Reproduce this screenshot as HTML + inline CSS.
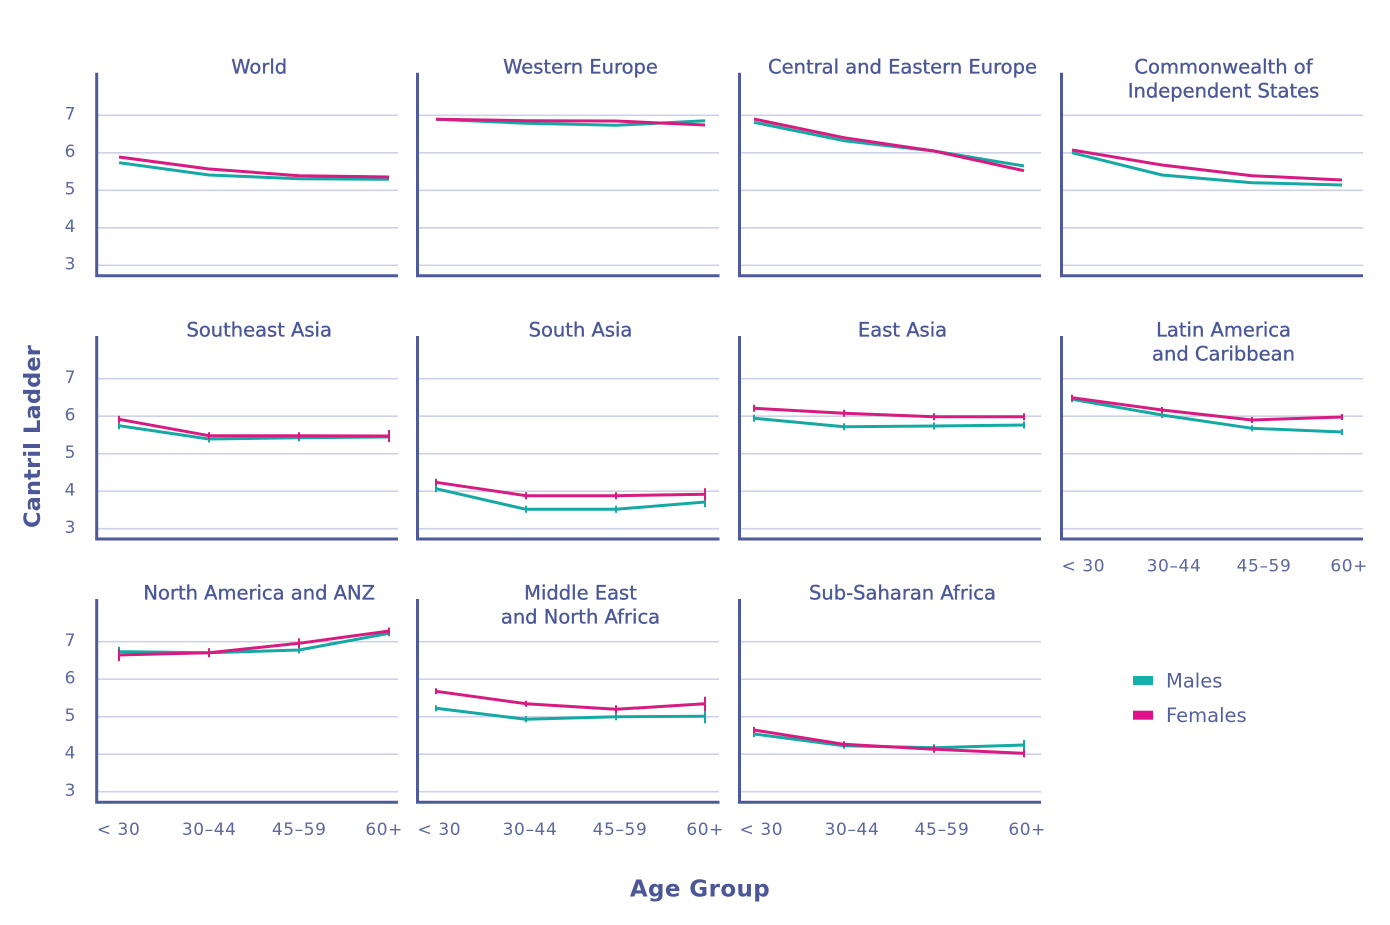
<!DOCTYPE html>
<html><head><meta charset="utf-8"><style>
html,body{margin:0;padding:0;background:#fff;}
svg{display:block;}
.t{font-family:"DejaVu Sans","Liberation Sans",sans-serif;font-size:19.5px;fill:#4b5797;text-anchor:middle;stroke:#4b5797;stroke-width:0.35px;}
.yl{font-family:"DejaVu Sans","Liberation Sans",sans-serif;font-size:17px;fill:#5d67a0;text-anchor:middle;}
.xl{font-family:"DejaVu Sans","Liberation Sans",sans-serif;font-size:17px;fill:#5d67a0;letter-spacing:0.6px;}
.ax{fill:none;stroke:#4f5a9b;stroke-width:3;}
.gr{stroke:#cfd1e7;stroke-width:1.6;}
.m{fill:none;stroke:#14aaa3;stroke-width:3;stroke-linejoin:round;}
.f{fill:none;stroke:#d81b80;stroke-width:3;stroke-linejoin:round;}
.me{stroke:#14aaa3;stroke-width:2;}
.fe{stroke:#d81b80;stroke-width:2;}
</style></head><body>
<svg width="1390" height="925" viewBox="0 0 1390 925" xmlns="http://www.w3.org/2000/svg">
<rect width="1390" height="925" fill="#fff"/>

<g class="gr">
<path d="M98,115.3H398M98,152.8H398M98,190.3H398M98,227.8H398M98,265.3H398"/>
<path d="M419,115.3H719M419,152.8H719M419,190.3H719M419,227.8H719M419,265.3H719"/>
<path d="M741,115.3H1041M741,152.8H1041M741,190.3H1041M741,227.8H1041M741,265.3H1041"/>
<path d="M1063,115.3H1363M1063,152.8H1363M1063,190.3H1363M1063,227.8H1363M1063,265.3H1363"/>
<path d="M98,378.7H398M98,416.2H398M98,453.7H398M98,491.2H398M98,528.7H398"/>
<path d="M419,378.7H719M419,416.2H719M419,453.7H719M419,491.2H719M419,528.7H719"/>
<path d="M741,378.7H1041M741,416.2H1041M741,453.7H1041M741,491.2H1041M741,528.7H1041"/>
<path d="M1063,378.7H1363M1063,416.2H1363M1063,453.7H1363M1063,491.2H1363M1063,528.7H1363"/>
<path d="M98,641.7H398M98,679.2H398M98,716.7H398M98,754.2H398M98,791.7H398"/>
<path d="M419,641.7H719M419,679.2H719M419,716.7H719M419,754.2H719M419,791.7H719"/>
<path d="M741,641.7H1041M741,679.2H1041M741,716.7H1041M741,754.2H1041M741,791.7H1041"/>
</g>

<g class="ax">
<path d="M96.7,72.7V275.7H398"/>
<path d="M417.5,72.7V275.7H719.5"/>
<path d="M739.5,72.7V275.7H1041"/>
<path d="M1061.5,72.7V275.7H1363"/>
<path d="M96.7,336V539H398"/>
<path d="M417.5,336V539H719.5"/>
<path d="M739.5,336V539H1041"/>
<path d="M1061.5,336V539H1363"/>
<path d="M96.7,599V802.3H398"/>
<path d="M417.5,599V802.3H719.5"/>
<path d="M739.5,599V802.3H1041"/>
</g>

<g class="yl">
<text x="70" y="119.5">7</text><text x="70" y="157">6</text><text x="70" y="194.5">5</text><text x="70" y="232">4</text><text x="70" y="269.5">3</text>
<text x="70" y="382.9">7</text><text x="70" y="420.4">6</text><text x="70" y="457.9">5</text><text x="70" y="495.4">4</text><text x="70" y="532.9">3</text>
<text x="70" y="645.9">7</text><text x="70" y="683.4">6</text><text x="70" y="720.9">5</text><text x="70" y="758.4">4</text><text x="70" y="795.9">3</text>
</g>

<g class="t">
<text x="259.2" y="73.3">World</text>
<text x="580.5" y="73.3">Western Europe</text>
<text x="902.5" y="73.3">Central and Eastern Europe</text>
<text x="1223.5" y="73.3">Commonwealth of</text>
<text x="1223.5" y="97.3">Independent States</text>
<text x="259.2" y="336.3">Southeast Asia</text>
<text x="580.5" y="336.3">South Asia</text>
<text x="902.5" y="336.3">East Asia</text>
<text x="1223.5" y="336.3">Latin America</text>
<text x="1223.5" y="360.3">and Caribbean</text>
<text x="259.2" y="599.3">North America and ANZ</text>
<text x="580.5" y="599.3">Middle East</text>
<text x="580.5" y="623.3">and North Africa</text>
<text x="902.5" y="599.3">Sub-Saharan Africa</text>
</g>

<g class="xl">
<text x="96.7" y="835">&lt; 30</text><text x="209.2" y="835" text-anchor="middle">30–44</text><text x="299.2" y="835" text-anchor="middle">45–59</text><text x="403" y="835" text-anchor="end">60+</text>
<text x="417.5" y="835">&lt; 30</text><text x="530" y="835" text-anchor="middle">30–44</text><text x="620" y="835" text-anchor="middle">45–59</text><text x="724" y="835" text-anchor="end">60+</text>
<text x="739.5" y="835">&lt; 30</text><text x="852" y="835" text-anchor="middle">30–44</text><text x="942" y="835" text-anchor="middle">45–59</text><text x="1046" y="835" text-anchor="end">60+</text>
<text x="1061.5" y="571.5">&lt; 30</text><text x="1174" y="571.5" text-anchor="middle">30–44</text><text x="1264" y="571.5" text-anchor="middle">45–59</text><text x="1368" y="571.5" text-anchor="end">60+</text>
</g>

<g class="m">
<polyline points="119,162.7 209,175 299,178.7 389,179.3"/>
<polyline points="436,119.3 526,123.3 616,125.3 705,120.7"/>
<polyline points="754,122.3 844,140.7 934,151 1024,166"/>
<polyline points="1072,152.7 1162,175 1252,182.7 1342,185"/>
<polyline points="119,425.7 209,439 299,437.7 389,437"/>
<polyline points="436,488.7 526,509.3 616,509.3 705,502"/>
<polyline points="754,418.3 844,426.7 934,426 1024,425"/>
<polyline points="1072,399.3 1162,415 1252,428.3 1342,432"/>
<polyline points="119,651.7 209,652.7 299,650 389,633.3"/>
<polyline points="436,708.3 526,719.3 616,716.7 705,716.3"/>
<polyline points="754,734 844,745.7 934,747.7 1024,745"/>
</g>
<g class="me">
<path d="M119,422.2V429.2M209,435.5V442.5M299,434.2V441.2M389,432V442"/>
<path d="M436,485.2V492.2M526,505.8V512.8M616,505.8V512.8M705,497V507"/>
<path d="M754,414.8V421.8M844,423.2V430.2M934,422.5V429.5M1024,421.5V428.5"/>
<path d="M1072,396.3V402.3M1162,412V418M1252,425.3V431.3M1342,429V435"/>
<path d="M119,646.7V656.7M209,649.2V656.2M299,646.5V653.5M389,630.3V636.3"/>
<path d="M436,705.3V711.3M526,716.3V722.3M616,713.2V720.2M705,709.3V723.3"/>
<path d="M754,731V737M844,742.7V748.7M934,744.2V751.2M1024,740V750"/>
</g>

<g class="f">
<polyline points="119,157 209,169 299,175.7 389,177"/>
<polyline points="436,119.3 526,120.7 616,121 705,125"/>
<polyline points="754,119 844,137.7 934,151 1024,170.7"/>
<polyline points="1072,150 1162,165 1252,175.7 1342,180"/>
<polyline points="119,419.3 209,435.7 299,435.7 389,436"/>
<polyline points="436,482.3 526,495.7 616,495.7 705,494.3"/>
<polyline points="754,408.3 844,413.3 934,416.7 1024,416.7"/>
<polyline points="1072,397.7 1162,410 1252,420 1342,417"/>
<polyline points="119,655 209,652.7 299,643.3 389,631"/>
<polyline points="436,691.3 526,703.7 616,709.3 705,703.7"/>
<polyline points="754,730 844,744.3 934,749.3 1024,753.3"/>
</g>
<g class="fe">
<path d="M119,415.8V422.8M209,432.2V439.2M299,432.2V439.2M389,430V442"/>
<path d="M436,478.8V485.8M526,492.2V499.2M616,492.2V499.2M705,488.3V500.3"/>
<path d="M754,404.8V411.8M844,409.8V416.8M934,413.2V420.2M1024,413.2V420.2"/>
<path d="M1072,394.7V400.7M1162,407V413M1252,417V423M1342,414V420"/>
<path d="M119,649V661M209,648.2V657.2M299,638.3V648.3M389,627.5V634.5"/>
<path d="M436,688.3V694.3M526,700.7V706.7M616,705.3V713.3M705,696.7V710.7"/>
<path d="M754,727V733M844,741.3V747.3M934,745.8V752.8M1024,749.3V757.3"/>
</g>

<rect x="1133" y="676" width="20" height="9" fill="#14b0a9"/>
<rect x="1133" y="710.7" width="20" height="9" fill="#e0128a"/>
<text x="1166" y="687.5" style="font-family:'DejaVu Sans','Liberation Sans',sans-serif;font-size:19.5px;fill:#5560a0;">Males</text>
<text x="1166" y="722.2" style="font-family:'DejaVu Sans','Liberation Sans',sans-serif;font-size:19.5px;fill:#5560a0;">Females</text>

<text x="700" y="896.5" text-anchor="middle" style="font-family:'DejaVu Sans','Liberation Sans',sans-serif;font-size:23px;font-weight:bold;fill:#4b5797;letter-spacing:0.4px;">Age Group</text>
<text transform="translate(40,436.5) rotate(-90)" x="0" y="0" text-anchor="middle" style="font-family:'DejaVu Sans','Liberation Sans',sans-serif;font-size:22.5px;font-weight:bold;fill:#4b5797;letter-spacing:0.15px;">Cantril Ladder</text>
</svg>
</body></html>
